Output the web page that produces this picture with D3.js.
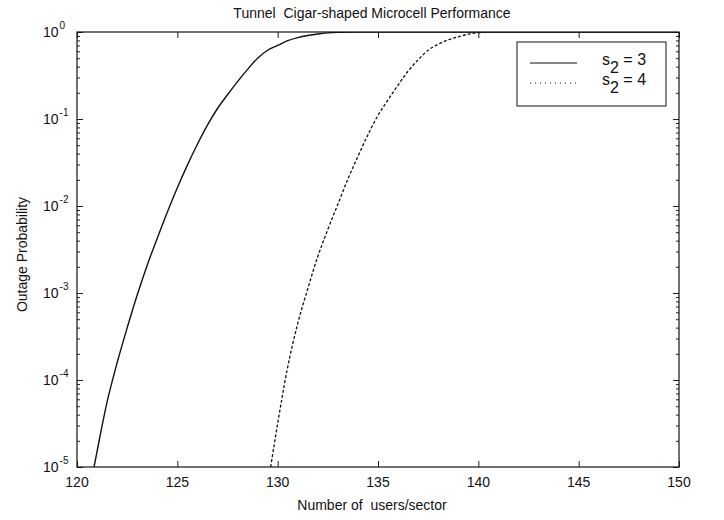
<!DOCTYPE html>
<html lang="en">
<head>
<meta charset="utf-8">
<title>Tunnel Cigar-shaped Microcell Performance</title>
<style>
  body { margin: 0; background: #fff; }
  svg text { font-family: "Liberation Sans", Arial, Helvetica, sans-serif; fill: #111; white-space: pre; }
</style>
</head>
<body>
<script src="https://d3js.org/d3.v7.min.js"></script>
<script>

// users per sector and outage probability
var usersS3 = [120.85, 121, 121.5, 122, 122.5, 123, 123.5, 124, 124.5, 125, 125.5, 126, 126.5, 127, 127.5,
               128, 128.5, 129, 129.5, 130, 130.5, 131, 131.5, 132, 132.5, 133, 134, 150];
var outageS3 = [1.0e-5, 1.51e-5, 5.6e-5, 1.58e-4, 3.98e-4, 9.5e-4, 2.09e-3, 4.27e-3, 8.5e-3, 0.0162, 0.0295,
                0.0513, 0.085, 0.132, 0.19, 0.269, 0.372, 0.50, 0.617, 0.70, 0.794, 0.861, 0.912, 0.95,
                0.977, 0.991, 1.0, 1.0];

var usersS4 = [129.65, 130, 130.5, 131, 131.5, 132, 132.5, 133, 133.5, 134, 134.5, 135, 135.5, 136, 136.5,
               137, 137.5, 138, 138.5, 139, 139.5, 140, 141, 150];
var outageS4 = [1.0e-5, 3.16e-5, 1.41e-4, 4.47e-4, 1.12e-3, 2.63e-3, 5.37e-3, 0.0105, 0.0204, 0.0372,
                0.066, 0.11, 0.166, 0.245, 0.355, 0.479, 0.617, 0.724, 0.813, 0.881, 0.944, 0.982, 1.0, 1.0];

var xTicks = [120, 125, 130, 135, 140, 145, 150];
var yExps = [0, -1, -2, -3, -4, -5];
var legendLabels = ["3", "4"];

var W = 724, H = 520;
var margin = {top: 32, right: 45, bottom: 53, left: 77};
var width = W - margin.left - margin.right,
    height = H - margin.top - margin.bottom;

var svg = d3.select("body").append("svg")
    .attr("width", W)
    .attr("height", H);

var x = d3.scaleLinear().domain([120, 150]).range([0, width]);
var y = d3.scaleLog().domain([1e-5, 1]).range([height, 0]);

var g = svg.append("g")
    .attr("transform", "translate(" + margin.left + "," + margin.top + ")");

g.append("clipPath").attr("id", "clip")
  .append("rect").attr("width", width).attr("height", height);

// minor log ticks
var minor = [];
for (var e = -5; e < 0; e++) {
  for (var m = 2; m <= 9; m++) minor.push(m * Math.pow(10, e));
}

var yMajorVals = yExps.map(function(k){ return Math.pow(10, k); });

// left / right axes (ticks inward)
var yLeft = d3.axisRight(y).tickValues(yMajorVals).tickSize(6).tickFormat("");
var yLeftMinor = d3.axisRight(y).tickValues(minor).tickSize(3).tickFormat("");
var yRight = d3.axisLeft(y).tickValues(yMajorVals).tickSize(6).tickFormat("");
var yRightMinor = d3.axisLeft(y).tickValues(minor).tickSize(3).tickFormat("");

g.append("g").attr("class", "ax").call(yLeft);
g.append("g").attr("class", "ax").call(yLeftMinor);
g.append("g").attr("class", "ax").attr("transform", "translate(" + width + ",0)").call(yRight);
g.append("g").attr("class", "ax").attr("transform", "translate(" + width + ",0)").call(yRightMinor);

var xBottom = d3.axisTop(x).tickValues(xTicks).tickSize(6).tickFormat("");
var xTop = d3.axisBottom(x).tickValues(xTicks).tickSize(6).tickFormat("");
g.append("g").attr("class", "ax").attr("transform", "translate(0," + height + ")").call(xBottom);
g.append("g").attr("class", "ax").call(xTop);

g.selectAll(".ax .domain").remove();
g.selectAll(".ax line").attr("stroke", "#222").attr("stroke-width", 1);

// box
g.append("rect")
    .attr("width", width).attr("height", height)
    .attr("fill", "none").attr("stroke", "#111").attr("stroke-width", 1.2);

// tick labels
g.selectAll(".xlab").data(xTicks).enter().append("text")
    .attr("class", "xlab")
    .attr("x", function(d){ return x(d); })
    .attr("y", height + 20)
    .attr("text-anchor", "middle")
    .style("font-size", "14px")
    .text(function(d){ return d; });

var ylab = g.selectAll(".ylab").data(yExps).enter().append("text")
    .attr("class", "ylab")
    .attr("x", 43 - margin.left)
    .attr("y", function(d){ return y(Math.pow(10, d)) + 5; })
    .style("font-size", "14px");
ylab.append("tspan").text("10");
ylab.append("tspan")
    .attr("dx", 1)
    .attr("dy", -8)
    .style("font-size", "10px")
    .text(function(d){ return d; });

// curves
var line = d3.line()
    .curve(d3.curveMonotoneX)
    .x(function(d){ return x(d[0]); })
    .y(function(d){ return y(d[1]); });

var s3 = d3.zip(usersS3, outageS3);
var s4 = d3.zip(usersS4, outageS4);

g.append("path").datum(s3)
    .attr("clip-path", "url(#clip)")
    .attr("d", line)
    .attr("fill", "none")
    .attr("stroke", "#111")
    .attr("stroke-width", 1.4);

g.append("path").datum(s4)
    .attr("clip-path", "url(#clip)")
    .attr("d", line)
    .attr("fill", "none")
    .attr("stroke", "#111")
    .attr("stroke-width", 1.3)
    .attr("stroke-dasharray", "3,2");

// legend
var lg = svg.append("g").attr("transform", "translate(517,42)");
lg.append("rect")
    .attr("width", 149).attr("height", 64)
    .attr("fill", "#fff").attr("stroke", "#111").attr("stroke-width", 1);

var rows = lg.selectAll(".row").data(legendLabels).enter().append("g")
    .attr("transform", function(d, i){ return "translate(0," + (21 + i * 20) + ")"; });
rows.append("line")
    .attr("x1", 13).attr("x2", 60)
    .attr("stroke", "#111")
    .attr("stroke-width", function(d, i){ return i === 0 ? 1.2 : 1; })
    .attr("stroke-dasharray", function(d, i){ return i === 0 ? null : "1,4"; });
var lt = rows.append("text")
    .attr("x", 85)
    .attr("y", 2)
    .style("font-size", "16px");
lt.append("tspan").text("s");
lt.append("tspan").attr("dy", 8).text("2");
lt.append("tspan").attr("dy", -8).text(function(d){ return " = " + d; });

// titles
svg.append("text")
    .attr("x", margin.left + width / 2 - 6)
    .attr("y", 18)
    .attr("text-anchor", "middle")
    .style("font-size", "14px")
    .text("Tunnel  Cigar-shaped Microcell Performance");

svg.append("text")
    .attr("x", margin.left + width / 2 - 6)
    .attr("y", 510)
    .attr("text-anchor", "middle")
    .style("font-size", "14px")
    .text("Number of  users/sector");

svg.append("text")
    .attr("transform", "translate(27," + (margin.top + height / 2 + 5) + ") rotate(-90)")
    .attr("text-anchor", "middle")
    .style("font-size", "14px")
    .text("Outage Probability");

</script>
</body>
</html>
